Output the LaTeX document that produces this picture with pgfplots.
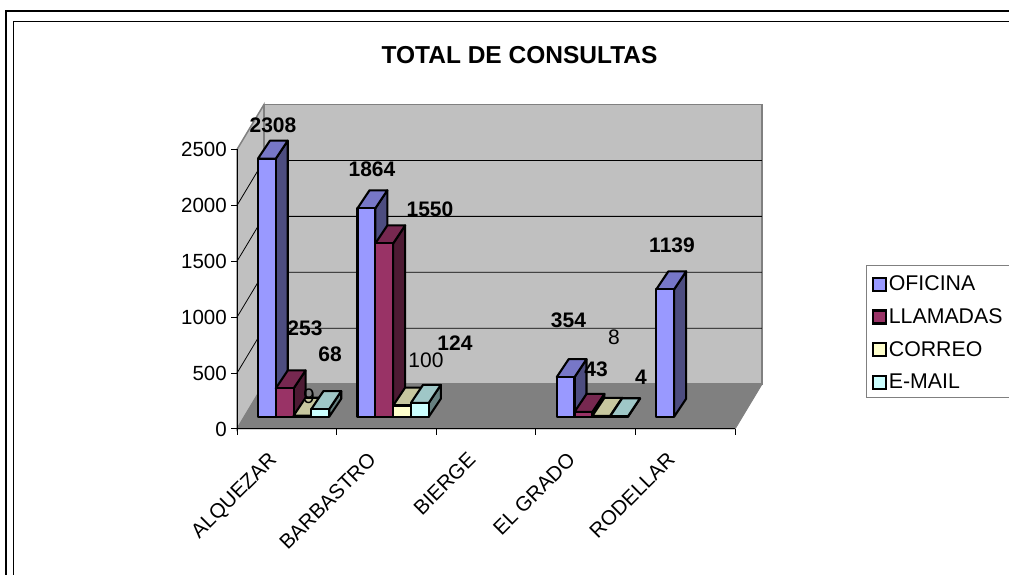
\documentclass[border=0pt]{standalone}
\usepackage{pgfplots}
\pgfplotsset{compat=1.18}
\usepackage{fontspec}
\setmainfont{Liberation Sans}
\definecolor{ofi}{HTML}{9999FF}\definecolor{ofiS}{HTML}{4D4D80}\definecolor{ofiT}{HTML}{7777C7}
\definecolor{lla}{HTML}{993366}\definecolor{llaS}{HTML}{4D1A33}\definecolor{llaT}{HTML}{772850}
\definecolor{cor}{HTML}{FFFFCC}\definecolor{corS}{HTML}{808066}\definecolor{corT}{HTML}{C7C79F}
\definecolor{ema}{HTML}{CCFFFF}\definecolor{emaS}{HTML}{668080}\definecolor{emaT}{HTML}{9FC7C7}
\definecolor{wall}{HTML}{C0C0C0}\definecolor{flo}{HTML}{808080}
% x0 value colourprefix
\newcommand{\threebar}[3]{%
 \pgfmathsetmacro{\xa}{#1}\pgfmathsetmacro{\xb}{#1+0.179}%
 \pgfmathsetmacro{\xc}{#1+0.1205}\pgfmathsetmacro{\xd}{#1+0.2995}%
 \pgfmathsetmacro{\ya}{#2+160.7}%
 \addplot[forget plot,draw=black,line width=2.1pt,line join=round,fill=#3S] coordinates {(\xb,0)(\xb,#2)(\xd,\ya)(\xd,160.7)} --cycle;
 \addplot[forget plot,draw=black,line width=2.1pt,line join=round,fill=#3T] coordinates {(\xa,#2)(\xb,#2)(\xd,\ya)(\xc,\ya)} --cycle;
 \addplot[forget plot,draw=black,line width=2.1pt,line join=round,fill=#3] coordinates {(\xa,0)(\xa,#2)(\xb,#2)(\xb,0)} --cycle;
}
\begin{document}
\begin{tikzpicture}[x=1pt,y=1pt]
\useasboundingbox (0,0) rectangle (1009,575);
\fill[white] (0,0) rectangle (1009,575);
\draw[black,line width=1.7pt] (6,-5) -- (6,564) -- (1015,564);
\draw[black,line width=1.7pt] (13.5,-5) -- (13.5,553.5) -- (1015,553.5);
\draw[flo,line width=1pt] (1015,309.3) -- (866,309.3) -- (866,177.3) -- (1015,177.3);
\begin{axis}[
  at={(237pt,146pt)},anchor=south west,
  scale only axis,width=498pt,height=279.5pt,
  xmin=0,xmax=5,ymin=0,ymax=2500,clip=false,
  axis x line=bottom,axis y line=left,
  axis line style={-,black,line width=1pt},
  axis on top,
  ytick={0,500,1000,1500,2000,2500},
  xtick={0.5,1.5,2.5,3.5,4.5},
  xticklabels={ALQUEZAR,BARBASTRO,BIERGE,EL GRADO,RODELLAR},
  minor xtick={0,1,2,3,4,5},
  major x tick style={draw=none},
  minor x tick style={black,line width=1pt},
  minor tick length=6pt,
  tick align=outside,
  y tick style={black,line width=1pt},
  major tick length=6pt,
  ticklabel style={font=\fontsize{20.5}{24}\selectfont},
  /pgf/number format/assume math mode=true,
  /pgf/number format/1000 sep={},
  x tick label style={rotate=45,anchor=north east,inner sep=1pt,xshift=-23.9pt,yshift=3.4pt},
  y tick label style={inner sep=4pt},
]
\addplot[forget plot,fill=wall,draw=flo,line width=1.5pt] coordinates {(0,0)(0,2500)(0.271,2902)(0.271,402)} --cycle;
\addplot[forget plot,fill=wall,draw=flo,line width=1.5pt] coordinates {(0.271,402)(0.271,2902)(5.271,2902)(5.271,402)} --cycle;
\addplot[forget plot,fill=flo,draw=flo,line width=1pt] coordinates {(0,0)(0.271,402)(5.271,402)(5,0)} --cycle;
\addplot[forget plot,black,line width=0.8pt] coordinates {(0,500)(0.271,902)(5.271,902)};
\addplot[forget plot,black,line width=0.8pt] coordinates {(0,1000)(0.271,1402)(5.271,1402)};
\addplot[forget plot,black,line width=0.8pt] coordinates {(0,1500)(0.271,1902)(5.271,1902)};
\addplot[forget plot,black,line width=0.8pt] coordinates {(0,2000)(0.271,2402)(5.271,2402)};
\end{axis}
\begin{axis}[
  at={(237pt,146pt)},anchor=south west,
  scale only axis,width=498pt,height=279.5pt,
  xmin=0,xmax=5,ymin=-110,ymax=2390,clip=false,
  hide axis,
  legend style={at={(axis cs:6.32,1295)},anchor=north west,draw=none,
    font=\fontsize{21.3}{24}\selectfont,inner xsep=5pt,inner ysep=2pt,row sep=12.3pt,
    /tikz/every even column/.append style={column sep=11pt},
    legend cell align=left,fill=none},
  legend image code/.code={\draw[#1,draw=black,line width=2.2pt] (0pt,-6.5pt) rectangle (13pt,6.5pt);},
]
\threebar{0.21}{2308}{ofi}
\threebar{0.389}{253}{lla}
\threebar{0.568}{9}{cor}
\threebar{0.747}{68}{ema}
\threebar{1.21}{1864}{ofi}
\threebar{1.389}{1550}{lla}
\threebar{1.568}{100}{cor}
\threebar{1.747}{124}{ema}
\threebar{3.21}{354}{ofi}
\threebar{3.389}{43}{lla}
\threebar{3.568}{8}{cor}
\threebar{3.747}{4}{ema}
\threebar{4.21}{1139}{ofi}
\addlegendimage{fill=ofi}\addlegendentry{OFICINA}
\addlegendimage{fill=lla}\addlegendentry{LLAMADAS}
\addlegendimage{fill=cor}\addlegendentry{CORREO}
\addlegendimage{fill=ema}\addlegendentry{E-MAIL}
\end{axis}
\node[font=\fontsize{24.5}{28}\selectfont\bfseries] at (519.5,520) {TOTAL DE CONSULTAS};
\begin{scope}[every node/.style={inner sep=0pt,font=\fontsize{21}{24}\selectfont\bfseries}]
\node at (273,450) {2308};
\node at (305,247) {253};
\node at (330,221) {68};
\node at (372,406) {1864};
\node at (430,366) {1550};
\node at (455,232) {124};
\node at (568.5,255) {354};
\node at (596,206) {43};
\node at (641,198) {4};
\node at (672,330) {1139};
\node[font=\fontsize{21}{24}\selectfont] at (309,179) {9};
\node[font=\fontsize{21}{24}\selectfont] at (426,215) {100};
\node[font=\fontsize{21}{24}\selectfont] at (614,238) {8};
\end{scope}
\end{tikzpicture}
\end{document}
